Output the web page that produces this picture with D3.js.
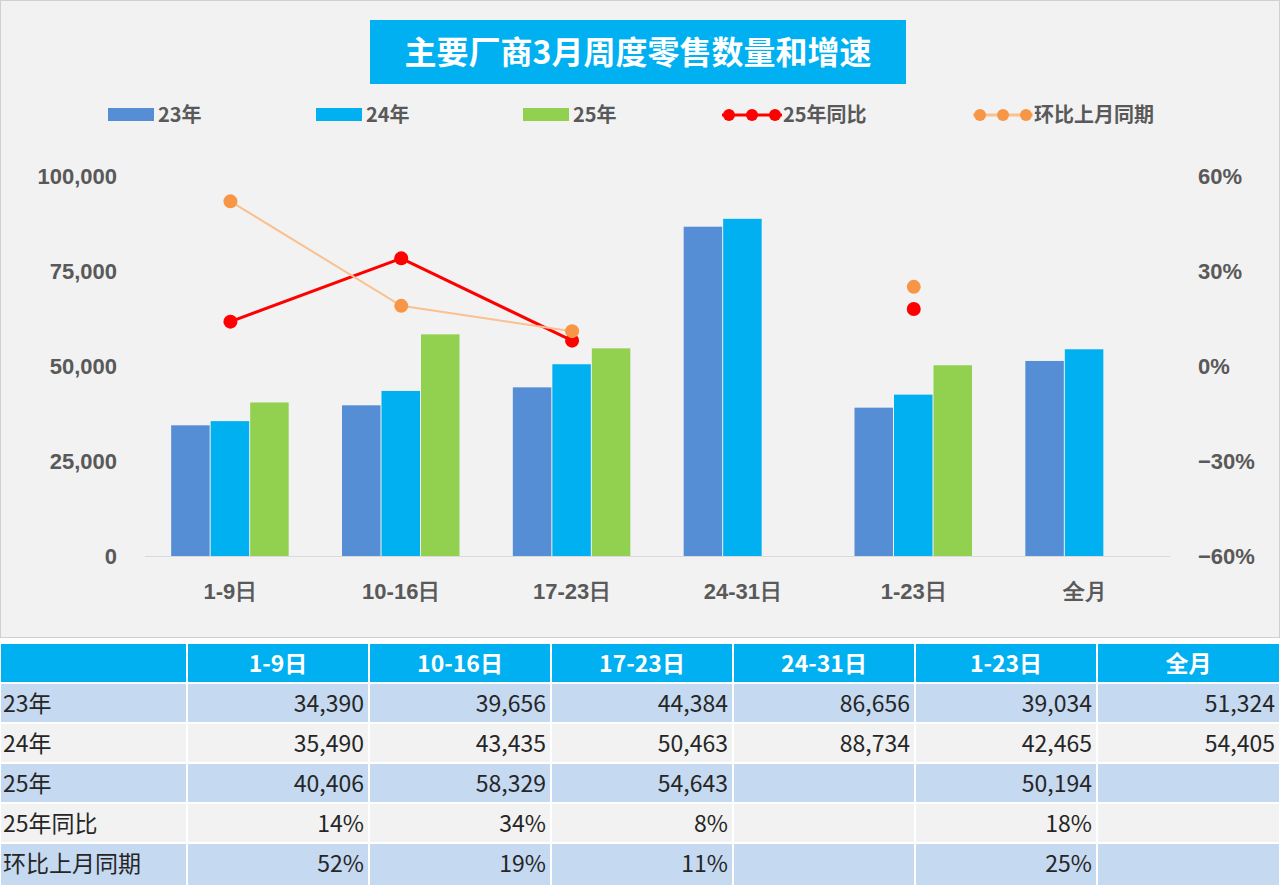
<!DOCTYPE html>
<html><head><meta charset="utf-8">
<script src="https://cdn.jsdelivr.net/npm/d3@7"></script>
<style>body{margin:0;background:#fff;font-family:"Noto Sans CJK SC",Arial,sans-serif}</style>
</head><body><svg id="chart"></svg>
<script>
const categories = ["1-9日", "10-16日", "17-23日", "24-31日", "1-23日", "全月"];
const sales23 = [34390, 39656, 44384, 86656, 39034, 51324];
const sales24 = [35490, 43435, 50463, 88734, 42465, 54405];
const sales25 = [40406, 58329, 54643, null, 50194, null];
const yoy25 = [0.14, 0.34, 0.08, null, 0.18, null];
const mom = [0.52, 0.19, 0.11, null, 0.25, null];
const leftTicks = [0, 25000, 50000, 75000, 100000];
const rightTicks = [-0.6, -0.3, 0, 0.3, 0.6];

const W = 1280, H = 887;
const svg = d3.select("#chart").attr("width", W).attr("height", H);
svg.append("rect").attr("x", 0.5).attr("y", 0.5).attr("width", W - 1).attr("height", 637)
  .attr("fill", "#f2f2f2").attr("stroke", "#d0d0d0");

// title
svg.append("rect").attr("x", 370).attr("y", 20).attr("width", 536).attr("height", 64).attr("fill", "#00b0f0");
svg.append("text").attr("x", 638).attr("y", 64).attr("text-anchor", "middle")
  .attr("font-size", 32).attr("font-weight", "bold").attr("fill", "#fff").text("主要厂商3月周度零售数量和增速");

const x = d3.scaleBand().domain(categories).range([145, 1170]);
const y = d3.scaleLinear().domain([0, 100000]).range([556, 176]);
const y2 = d3.scaleLinear().domain([-0.6, 0.6]).range([556, 176]);
const cx = c => x(c) + x.bandwidth() / 2;
const barW = 39.5;

const series = [
  { name: "23年", vals: sales23, color: "#558ed5", off: -1 },
  { name: "24年", vals: sales24, color: "#00b0f0", off: 0 },
  { name: "25年", vals: sales25, color: "#92d050", off: 1 },
];

svg.append("line").attr("x1", 145).attr("x2", 1170).attr("y1", 556.5).attr("y2", 556.5).attr("stroke", "#d9d9d9");

series.forEach(s => {
  svg.append("g").selectAll("rect")
    .data(categories.map((c, i) => ({ c, v: s.vals[i] })).filter(d => d.v != null))
    .join("rect")
    .attr("x", d => cx(d.c) + s.off * barW - barW / 2)
    .attr("width", barW - 1)
    .attr("y", d => y(d.v)).attr("height", d => 556 - y(d.v))
    .attr("fill", s.color);
});

// axes
const axL = svg.append("g").attr("transform", "translate(120,0)")
  .call(d3.axisLeft(y).tickValues(leftTicks).tickFormat(d3.format(",")).tickSize(0));
const axR = svg.append("g").attr("transform", "translate(1195,0)")
  .call(d3.axisRight(y2).tickValues(rightTicks).tickFormat(d3.format(".0%")).tickSize(0));
const axB = svg.append("g").attr("transform", "translate(0,580)")
  .call(d3.axisBottom(x).tickSize(0));
[axL, axR, axB].forEach(a => {
  a.select(".domain").remove();
  a.selectAll("text").attr("font-size", 22).attr("font-weight", "bold").attr("fill", "#595959");
});

// lines
const lines = [
  { name: "25年同比", vals: yoy25, line: "#ff0000", dot: "#ff0000", w: 3 },
  { name: "环比上月同期", vals: mom, line: "#fac090", dot: "#f79646", w: 2 },
];
lines.forEach(l => {
  const pts = categories.map((c, i) => ({ c, v: l.vals[i], i })).filter(d => d.v != null);
  svg.append("path").datum(pts.filter(d => d.i < 3))
    .attr("d", d3.line().x(d => cx(d.c)).y(d => y2(d.v)))
    .attr("fill", "none").attr("stroke", l.line).attr("stroke-width", l.w);
  svg.append("g").selectAll("circle").data(pts).join("circle")
    .attr("cx", d => cx(d.c)).attr("cy", d => y2(d.v)).attr("r", 7).attr("fill", l.dot);
});

// legend
const leg = svg.append("g").attr("font-size", 20).attr("font-weight", "bold").attr("fill", "#595959");
const legItems = [
  { t: "23年", x: 108, type: "bar", c: "#558ed5" },
  { t: "24年", x: 316, type: "bar", c: "#00b0f0" },
  { t: "25年", x: 523, type: "bar", c: "#92d050" },
  { t: "25年同比", x: 722, type: "line", c: "#ff0000", d: "#ff0000" },
  { t: "环比上月同期", x: 973, type: "line", c: "#fac090", d: "#f79646" },
];
legItems.forEach(it => {
  if (it.type === "bar") {
    leg.append("rect").attr("x", it.x).attr("y", 108).attr("width", 46).attr("height", 13).attr("fill", it.c);
    leg.append("text").attr("x", it.x + 50).attr("y", 122).text(it.t);
  } else {
    leg.append("line").attr("x1", it.x).attr("x2", it.x + 60).attr("y1", 115).attr("y2", 115)
      .attr("stroke", it.c).attr("stroke-width", 3);
    [it.x + 7, it.x + 30, it.x + 53].forEach(px =>
      leg.append("circle").attr("cx", px).attr("cy", 115).attr("r", 6).attr("fill", it.d));
    leg.append("text").attr("x", it.x + 61).attr("y", 122).text(it.t);
  }
});

// table
const colX = [0, 187, 369, 551, 733, 915, 1097, 1280];
const rowY = [643, 683, 723, 763, 803, 843, 886];
const fmtN = v => v == null ? "" : d3.format(",")(v);
const fmtP = v => v == null ? "" : d3.format(".0%")(v);
const rows = [
  ["23年", sales23.map(fmtN)],
  ["24年", sales24.map(fmtN)],
  ["25年", sales25.map(fmtN)],
  ["25年同比", yoy25.map(fmtP)],
  ["环比上月同期", mom.map(fmtP)],
];
const tbl = svg.append("g");
for (let c = 0; c < 7; c++) {
  tbl.append("rect").attr("x", colX[c]).attr("y", rowY[0]).attr("width", colX[c + 1] - colX[c])
    .attr("height", rowY[1] - rowY[0]).attr("fill", "#00b0f0").attr("stroke", "#fff").attr("stroke-width", 2);
  if (c > 0) tbl.append("text").attr("x", (colX[c] + colX[c + 1]) / 2).attr("y", rowY[0] + 29)
    .attr("text-anchor", "middle").attr("font-size", 23).attr("font-weight", "bold").attr("fill", "#fff")
    .text(categories[c - 1]);
}
rows.forEach((r, ri) => {
  const fill = ri % 2 === 0 ? "#c5d9f1" : "#f2f2f2";
  const top = rowY[ri + 1], h = rowY[ri + 2] - top;
  for (let c = 0; c < 7; c++) {
    tbl.append("rect").attr("x", colX[c]).attr("y", top).attr("width", colX[c + 1] - colX[c])
      .attr("height", h).attr("fill", fill).attr("stroke", "#fff").attr("stroke-width", 2);
    const txt = c === 0 ? r[0] : r[1][c - 1];
    tbl.append("text").attr("x", c === 0 ? 3 : colX[c + 1] - 5).attr("y", top + 29)
      .attr("text-anchor", c === 0 ? "start" : "end").attr("font-size", 23).attr("fill", "#262626").text(txt);
  }
});
</script></body></html>
